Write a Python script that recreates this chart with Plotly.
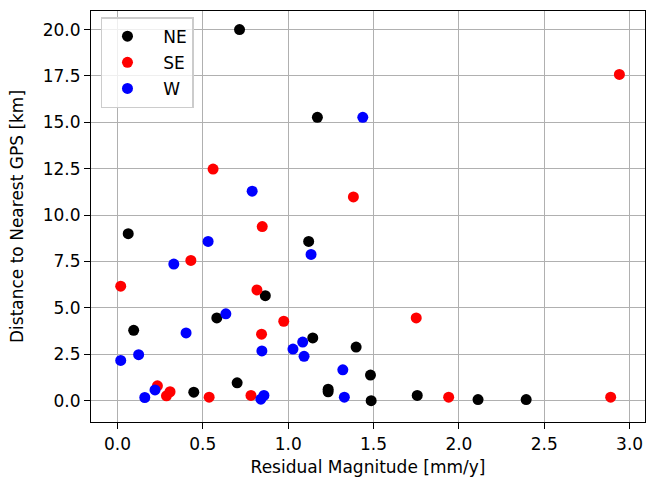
import plotly.graph_objects as go

ne_x = [0.715, 0.063, 1.171, 1.120, 0.866, 0.582, 0.095, 1.144, 1.398, 1.482, 0.701, 0.447, 1.234, 1.234, 1.486, 1.756, 2.112, 2.394]
ne_y = [20.0, 9.0, 15.27, 8.58, 5.66, 4.46, 3.79, 3.38, 2.89, 1.38, 0.96, 0.46, 0.62, 0.48, 0.0, 0.28, 0.06, 0.06]

se_x = [2.94, 1.382, 0.560, 0.848, 0.019, 0.430, 0.817, 0.974, 0.844, 1.75, 0.234, 0.287, 0.308, 0.537, 0.782, 1.94, 2.889]
se_y = [17.58, 10.98, 12.48, 9.38, 6.17, 7.56, 5.97, 4.28, 3.58, 4.46, 0.80, 0.26, 0.48, 0.19, 0.28, 0.19, 0.19]

w_x = [1.437, 0.789, 0.531, 1.134, 0.330, 0.635, 0.402, 0.019, 0.124, 0.846, 1.085, 1.028, 1.093, 1.32, 0.160, 0.220, 0.840, 0.858, 1.329]
w_y = [15.27, 11.29, 8.58, 7.88, 7.36, 4.68, 3.65, 2.17, 2.48, 2.68, 3.16, 2.78, 2.39, 1.66, 0.17, 0.58, 0.08, 0.28, 0.19]

series = [("NE", ne_x, ne_y, "black"), ("SE", se_x, se_y, "red"), ("W", w_x, w_y, "blue")]

x_ticks = [0.0, 0.5, 1.0, 1.5, 2.0, 2.5, 3.0]
y_ticks = [0.0, 2.5, 5.0, 7.5, 10.0, 12.5, 15.0, 17.5, 20.0]

FONT = "DejaVu Sans"

fig = go.Figure()
for name, xs, ys, col in series:
    fig.add_trace(go.Scatter(
        x=xs, y=ys, mode="markers", name="\u00a0\u00a0" + name,
        legendgroup=name,
        marker=dict(color=col, size=11, line=dict(width=0)),
    ))

axis_common = dict(
    showgrid=True, gridcolor="#b0b0b0", gridwidth=1.2,
    showline=True, linecolor="black", linewidth=1.2, mirror=True,
    ticks="outside", ticklen=6, tickwidth=1.2, tickcolor="black",
    tickfont=dict(family=FONT, size=17, color="black"),
    zeroline=False, tickformat=".1f",
)

fig.update_layout(
    width=648, height=477,
    margin=dict(l=91, r=3, t=11, b=55),
    paper_bgcolor="white", plot_bgcolor="white",
    font=dict(family=FONT, size=17, color="black"),
    xaxis=dict(range=[-0.155, 3.09], tickvals=x_ticks,
               title=dict(text="Residual Magnitude [mm/y]", font=dict(family=FONT, size=17), standoff=9),
               **axis_common),
    yaxis=dict(range=[-1.15, 21.0], tickvals=y_ticks,
               title=dict(text="Distance to Nearest GPS [km]", font=dict(family=FONT, size=17), standoff=14),
               **axis_common),
    legend=dict(x=0.018, y=0.985, xanchor="left", yanchor="top",
                bgcolor="rgba(255,255,255,0.8)", bordercolor="#cccccc", borderwidth=1.5,
                font=dict(family=FONT, size=17, color="black"),
                tracegroupgap=1, traceorder="grouped", itemwidth=40),
    showlegend=True,
)

fig.write_html("out.html", config={"displayModeBar": False},
               post_script="document.body.style.margin='0';")
